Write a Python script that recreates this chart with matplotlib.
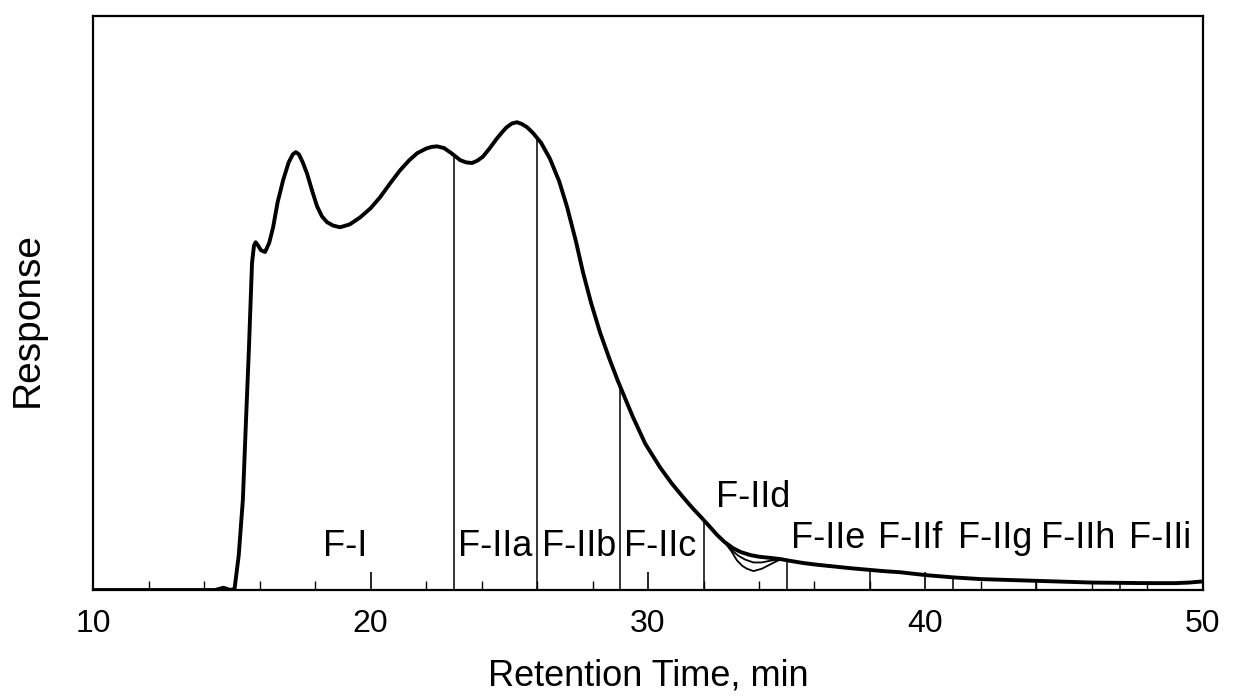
import matplotlib.pyplot as plt
import numpy as np
from matplotlib.ticker import MultipleLocator

plt.rcParams['font.family'] = ['Liberation Sans', 'DejaVu Sans']

# retention time (min) and detector response
time = [10.0, 14.4, 14.7, 14.95, 15.1, 15.25, 15.4, 15.5, 15.62, 15.73, 15.8,
        15.86, 15.95, 16.05, 16.2, 16.35, 16.49, 16.65, 16.85, 17.05, 17.2,
        17.31, 17.42, 17.55, 17.71, 17.9, 18.07, 18.25, 18.43, 18.65, 18.9,
        19.25, 19.62, 20.0, 20.34, 20.7, 21.06, 21.4, 21.68, 22.0, 22.2,
        22.4, 22.65, 22.86, 23.05, 23.23, 23.45, 23.66, 23.85, 24.05, 24.3,
        24.56, 24.75, 24.9, 25.1, 25.28, 25.45, 25.65, 25.86, 26.15, 26.47,
        26.8, 27.08, 27.4, 27.66, 27.95, 28.27, 28.6, 28.9, 29.2, 29.46,
        29.9, 30.43, 30.85, 31.26, 31.6, 31.95, 32.25, 32.49, 32.75, 33.06,
        33.35, 33.68, 34.0, 34.4, 34.76, 35.1, 35.6, 36.1, 36.7, 37.3, 38.0,
        38.47, 39.08, 40.0, 41.0, 42.0, 43.0, 44.0, 45.0, 46.0, 47.0, 48.0,
        49.0, 49.5, 50.0]
response = [0, 0, 0.4, 0, 0.2, 6, 15.7, 28, 42.3, 57, 60.0,
            60.6, 60.0, 59.2, 58.9, 60.5, 63.2, 67.5, 71.4, 74.5, 75.9,
            76.3, 75.9, 74.6, 72.6, 69.5, 66.9, 65.1, 64.1, 63.5, 63.2,
            63.7, 64.9, 66.5, 68.4, 70.8, 73.1, 74.9, 76.1, 76.9, 77.2,
            77.3, 77.0, 76.3, 75.6, 74.9, 74.5, 74.4, 74.8, 75.5, 77.0,
            78.7, 79.8, 80.6, 81.3, 81.5, 81.2, 80.6, 79.6, 77.9, 75.1,
            71.2, 66.8, 60.8, 55.3, 50.0, 44.9, 40.4, 36.6, 33.1, 30.1,
            25.5, 21.4, 18.6, 16.2, 14.3, 12.5, 10.9, 9.6, 8.4, 7.3,
            6.6, 6.1, 5.8, 5.6, 5.4, 5.1, 4.7, 4.4, 4.1, 3.8, 3.5,
            3.3, 3.1, 2.6, 2.2, 1.9, 1.75, 1.6, 1.45, 1.3, 1.25, 1.2,
            1.2, 1.3, 1.5]

# repeat runs that split from the main trace around 33 min
time_low = [32.75, 33.0, 33.2, 33.4, 33.57, 33.8, 34.1, 34.3, 34.5, 34.8, 35.1]
resp_low = [8.4, 6.8, 5.2, 4.2, 3.7, 3.3, 3.7, 4.2, 4.7, 5.4, 5.1]
time_mid = [32.75, 33.0, 33.25, 33.5, 33.8, 34.1, 34.4, 34.8, 35.1]
resp_mid = [8.4, 7.0, 6.0, 5.3, 4.8, 4.8, 5.1, 5.4, 5.1]

# fraction cut points and labels
cuts = [23, 26, 29, 32, 35, 38, 41, 44, 47]
frac_names = ['F-I', 'F-IIa', 'F-IIb', 'F-IIc', 'F-IId',
              'F-IIe', 'F-IIf', 'F-IIg', 'F-IIh', 'F-IIi']
frac_x = [19.1, 24.5, 27.5, 30.45, 33.8, 36.5, 39.45, 42.5, 45.5, 48.45]
frac_y = [5.9, 5.9, 5.9, 5.9, 14.5, 7.3, 7.3, 7.3, 7.3, 7.3]

fig = plt.figure(figsize=(12.37, 6.98), dpi=100)
ax = fig.add_axes([0.0752, 0.1547, 0.8973, 0.8223])

ax.plot(time, response, color='black', lw=2.8, solid_joinstyle='round')
ax.plot(time_low, resp_low, color='black', lw=1.3)
ax.plot(time_mid, resp_mid, color='black', lw=1.3)

# vertical fraction lines up to the trace
cut_tops = np.interp(cuts, time, response)
ax.vlines(cuts, 0, cut_tops, color='black', lw=1.1)

for name, x, y in zip(frac_names, frac_x, frac_y):
    ax.text(x, y, name, ha='center', va='baseline', fontsize=26)

ax.set_xlim(10, 50)
ax.set_ylim(0, 100)
ax.xaxis.set_major_locator(MultipleLocator(10))
ax.xaxis.set_minor_locator(MultipleLocator(2))
ax.tick_params(axis='x', which='major', direction='in', length=13, width=1.2,
               labelsize=23, pad=14)
ax.tick_params(axis='x', which='minor', direction='in', length=6.5, width=1.0)
ax.set_yticks([])
for sp in ax.spines.values():
    sp.set_linewidth(1.6)

ax.set_xlabel('Retention Time, min', fontsize=26, labelpad=14)
ax.set_ylabel('Response', fontsize=28)
ax.yaxis.set_label_coords(-0.043, 0.472)

fig.savefig('out.png', dpi=100)
